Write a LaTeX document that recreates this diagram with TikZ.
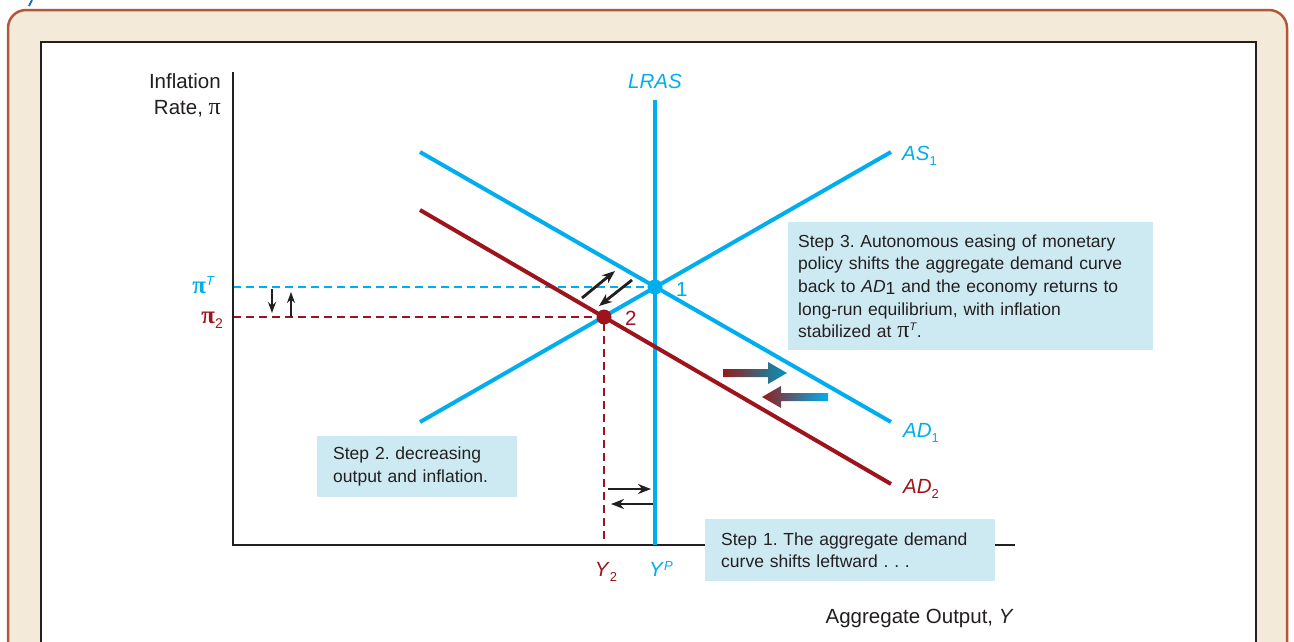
\documentclass[tikz,border=0pt]{standalone}
\usepackage{fontspec}
\setmainfont{Liberation Sans}
\newfontfamily\pifont{Liberation Serif}
\usetikzlibrary{arrows.meta}
\definecolor{cyanc}{RGB}{0,174,239}
\definecolor{redc}{RGB}{158,20,28}
\definecolor{boxc}{RGB}{205,234,242}
\definecolor{framec}{RGB}{178,88,56}
\definecolor{beigec}{RGB}{243,234,218}
\definecolor{tealc}{RGB}{0,150,190}
\definecolor{darkr}{RGB}{150,28,24}
\definecolor{inkc}{RGB}{35,31,32}
\definecolor{titleblue}{RGB}{25,110,175}
\newcommand{\mypi}{{\pifont\fontsize{24}{24}\selectfont π}}
\newcommand{\mybpi}{{\pifont\bfseries\fontsize{25}{25}\selectfont π}}
\frenchspacing
\tikzset{
  axis/.style={draw=inkc, line width=1.4},
  curveblue/.style={draw=cyanc, line width=4},
  curvered/.style={draw=redc, line width=4},
  dashblue/.style={draw=cyanc, line width=1.3, dash pattern=on 8pt off 5pt},
  dashred/.style={draw=redc, line width=1.3, dash pattern=on 8pt off 5pt},
  dot/.style={circle, inner sep=0pt, minimum size=15pt},
  darrow/.style={draw=inkc, line width=2.8, -{Stealth[length=13pt,width=10pt]}},
  sarrow/.style={draw=inkc, line width=2.2, -{Stealth[length=11pt,width=8pt]}},
  stepbox/.style={fill=boxc, anchor=north west, inner xsep=10pt, align=left,
     font=\fontsize{17.5}{22.7}\selectfont, text=inkc},
  biglab/.style={font=\fontsize{20.5}{26}\selectfont},
}
\begin{document}
\begin{tikzpicture}[x=1pt,y=-1pt]
\useasboundingbox (0,0) rectangle (1294,641);
\clip (0,0) rectangle (1294,641);
\fill[white] (0,0) rectangle (1294,641);
\draw[titleblue, line width=2] (29,6) -- (32,0);
\draw[framec, line width=2.5, fill=beigec, rounded corners=18] (8,10) rectangle (1287,720);
\draw[fill=white, draw=inkc, line width=1.3] (41,42) rectangle (1256,720);

% coordinates
\coordinate (ytop) at (233,72);
\coordinate (O) at (233,545);
\coordinate (xend) at (1015,545);
\coordinate (piT) at (233,287);
\coordinate (pi2) at (233,317);
\coordinate (y2) at (604,545);
\coordinate (LRt) at (655,100);
\coordinate (LRb) at (655,545);
\coordinate (AS1s) at (420,422);
\coordinate (AS1e) at (891,152);
\coordinate (AD1s) at (420,152);
\coordinate (AD1e) at (891,422);
\coordinate (AD2s) at (420,210);
\coordinate (AD2e) at (891,484);
\coordinate (p1c) at (655,287);
\coordinate (p2c) at (604,317);

% dashed guides
\draw[dashblue] (piT) -- (p1c);
\draw[dashred] (pi2) -- (p2c) -- (y2);

% axes
\draw[axis] (ytop) -- (O) -- (xend);

% curves
\draw[curveblue] (LRt) -- (LRb);
\draw[curveblue] (AS1s) -- (AS1e);
\draw[curveblue] (AD1s) -- (AD1e);
\draw[curvered] (AD2s) -- (AD2e);

% points
\node[dot, fill=cyanc] (p1) at (p1c) {};
\node[dot, fill=redc] (p2) at (p2c) {};
\node[biglab, text=cyanc, anchor=base west, inner sep=0pt] (l1) at (676,296) {1};
\node[biglab, text=redc, anchor=base west, inner sep=0pt] (l2) at (625,325) {2};

% small arrows
\coordinate (da1) at (272,289); \coordinate (da2) at (272,313);
\coordinate (ua1) at (291,317); \coordinate (ua2) at (291,292);
\draw[sarrow] (da1) -- (da2);
\draw[sarrow] (ua1) -- (ua2);
\coordinate (g1a) at (582,298); \coordinate (g1b) at (615,271);
\coordinate (g2a) at (632,280); \coordinate (g2b) at (599,306);
\draw[darrow] (g1a) -- (g1b);
\draw[darrow] (g2a) -- (g2b);
\coordinate (h1a) at (608,489); \coordinate (h1b) at (651,489);
\coordinate (h2a) at (653,504); \coordinate (h2b) at (611,504);
\draw[darrow] (h1a) -- (h1b);
\draw[darrow] (h2a) -- (h2b);

% gradient arrows
\shade[left color=darkr, right color=tealc] (723,369) -- (768,369) -- (768,362) -- (787,373) -- (768,384) -- (768,377) -- (723,377) -- cycle;
\shade[left color=darkr, right color=cyanc] (828,393) -- (781,393) -- (781,386) -- (762,397) -- (781,408) -- (781,401) -- (828,401) -- cycle;

% axis labels
\node[biglab, text=inkc, anchor=base east, inner sep=0pt] (ylab1) at (221,88) {Inflation};
\node[biglab, text=inkc, anchor=base east, inner sep=0pt] (ylab2) at (221,114) {Rate, \mypi};
\node[biglab, text=inkc, anchor=base east, inner sep=0pt] (xlab) at (1014,623) {Aggregate Output, \textit{Y}};
\node[biglab, text=cyanc, anchor=base, inner sep=0pt] (lras) at (655,88) {\textit{LRAS}};
\node[biglab, text=cyanc, anchor=base west, inner sep=0pt] (as1) at (902,160) {\textit{AS}\raisebox{-5pt}{\fontsize{13}{13}\selectfont 1}};
\node[biglab, text=cyanc, anchor=base west, inner sep=0pt] (ad1) at (903,437) {\textit{AD}\raisebox{-5pt}{\fontsize{13}{13}\selectfont 1}};
\node[biglab, text=redc, anchor=base west, inner sep=0pt] (ad2) at (903,493) {\textit{AD}\raisebox{-5pt}{\fontsize{13}{13}\selectfont 2}};
\node[biglab, text=cyanc, anchor=base east, inner sep=0pt] (pit) at (215,293) {\mybpi\raisebox{8pt}{\fontsize{13}{13}\selectfont\textit{T}}};
\node[biglab, text=redc, anchor=base east, inner sep=0pt] (pi2l) at (223,323) {\mybpi\raisebox{-5pt}{\fontsize{14}{14}\selectfont 2}};
\node[biglab, text=redc, anchor=base, inner sep=0pt] (y2l) at (606,576) {\textit{Y}\raisebox{-5pt}{\fontsize{13}{13}\selectfont 2}};
\node[biglab, text=cyanc, anchor=base, inner sep=0pt] (ypl) at (661,576) {\textit{Y}\raisebox{6pt}{\fontsize{13}{13}\selectfont\textit{P}}};

% step boxes
\node[stepbox, minimum width=365pt, minimum height=128pt, text width=345pt] (s3) at (788,222)
 {Step 3. Autonomous easing of monetary\\ policy shifts the aggregate demand curve\\ back to \textit{AD}\raisebox{-2pt}{1} and the economy returns to\\ long-run equilibrium, with inflation\\ stabilized at \mypi\raisebox{7pt}{\fontsize{11}{11}\selectfont\textit{T}}.};
\node[stepbox, inner xsep=16pt, minimum width=200pt, minimum height=61pt, text width=168pt] (s2) at (317,436)
 {Step 2. decreasing\\ output and inflation.};
\node[stepbox, inner xsep=16pt, minimum width=290pt, minimum height=62pt, text width=258pt] (s1) at (705,519)
 {Step 1. The aggregate demand\\ curve shifts leftward . . .};
\end{tikzpicture}
\end{document}
